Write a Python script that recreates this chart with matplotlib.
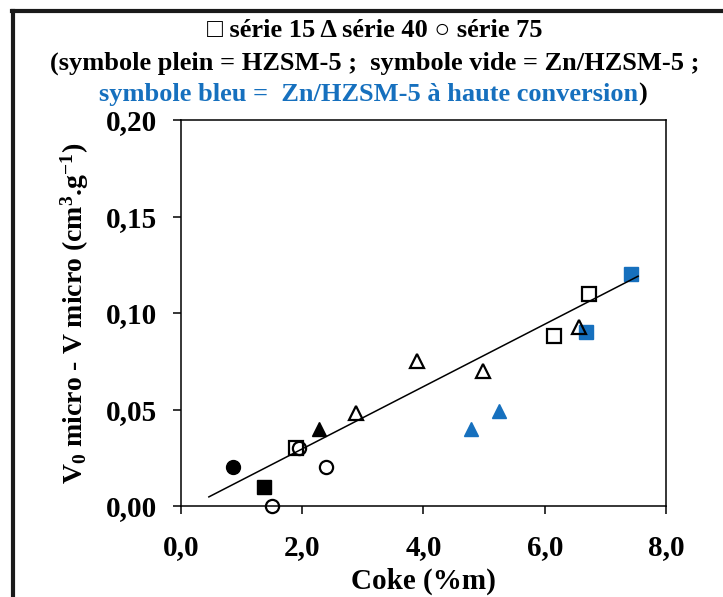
import numpy as np
import matplotlib.pyplot as plt
from matplotlib.lines import Line2D

plt.rcParams['font.family'] = ['Liberation Serif', 'DejaVu Serif']
plt.rcParams['font.weight'] = 'bold'
plt.rcParams['mathtext.fontset'] = 'custom'
plt.rcParams['mathtext.rm'] = 'Liberation Serif:bold'
plt.rcParams['mathtext.bf'] = 'Liberation Serif:bold'
plt.rcParams['mathtext.it'] = 'Liberation Serif:bold'

BLUE = '#1670be'

# série 15 (carrés)
s15_plein_x = [1.37]
s15_plein_y = [0.010]
s15_vide_x = [1.90, 6.15, 6.73]
s15_vide_y = [0.030, 0.088, 0.110]
s15_bleu_x = [6.68, 7.42]
s15_bleu_y = [0.090, 0.120]

# série 40 (triangles)
s40_plein_x = [2.28]
s40_plein_y = [0.040]
s40_vide_x = [2.89, 3.90, 4.98, 6.57]
s40_vide_y = [0.048, 0.075, 0.070, 0.093]
s40_bleu_x = [4.78, 5.24]
s40_bleu_y = [0.040, 0.049]

# série 75 (ronds)
s75_plein_x = [0.85]
s75_plein_y = [0.020]
s75_vide_x = [1.50, 1.95, 2.40]
s75_vide_y = [0.000, 0.030, 0.020]

# droite de tendance
fit_slope = 0.01615
fit_intercept = -0.0027
fit_xrange = [0.46, 7.54]

x_ticks = [0, 2, 4, 6, 8]
x_ticklabels = ['0,0', '2,0', '4,0', '6,0', '8,0']
y_ticks = [0.00, 0.05, 0.10, 0.15, 0.20]
y_ticklabels = ['0,00', '0,05', '0,10', '0,15', '0,20']

fig = plt.figure(figsize=(7.23, 5.97), dpi=100)
ax = fig.add_axes([0.2503, 0.1524, 0.6709, 0.6466])

ms = 10
mew = 1.6
# symboles bleus
ax.plot(s15_bleu_x, s15_bleu_y, 's', color=BLUE, ms=ms, mec=BLUE, zorder=3)
ax.plot(s40_bleu_x, s40_bleu_y, '^', color=BLUE, ms=ms, mec=BLUE, zorder=3)
# symboles pleins
ax.plot(s15_plein_x, s15_plein_y, 's', color='black', ms=ms, zorder=3)
ax.plot(s40_plein_x, s40_plein_y, '^', color='black', ms=ms, zorder=3)
ax.plot(s75_plein_x, s75_plein_y, 'o', color='black', ms=ms, zorder=3)
# symboles vides
ax.plot(s15_vide_x, s15_vide_y, 's', mfc='none', mec='black', mew=mew, ms=ms, zorder=4)
ax.plot(s40_vide_x, s40_vide_y, '^', mfc='none', mec='black', mew=mew, ms=ms, zorder=4)
ax.plot(s75_vide_x, s75_vide_y, 'o', mfc='none', mec='black', mew=mew, ms=ms - 0.5,
        zorder=4, clip_on=False)

xf = np.array(fit_xrange)
ax.plot(xf, fit_slope * xf + fit_intercept, color='black', lw=1.1, zorder=5)

ax.set_xlim(0, 8)
ax.set_ylim(0, 0.20)
ax.set_xticks(x_ticks)
ax.set_xticklabels(x_ticklabels)
ax.set_yticks(y_ticks)
ax.set_yticklabels(y_ticklabels)
ax.tick_params(direction='out', length=6, width=1.1, labelsize=21)
ax.tick_params(axis='x', pad=14)
ax.tick_params(axis='y', pad=11)
for sp in ax.spines.values():
    sp.set_linewidth(1.1)

ax.set_xlabel('Coke (%m)', fontsize=21, fontweight='bold', labelpad=5)
ax.set_ylabel(r'V$_{\mathbf{0}}$ micro - V micro (cm$^{\mathbf{3}}$.g$^{\mathbf{-1}}$)',
              fontsize=20, fontweight='bold', labelpad=11)

# titre sur trois lignes
title_size = 19
fig.text(0.519, 0.938, '□ série 15 Δ série 40 ○ série 75', ha='center', va='baseline',
         fontsize=title_size, fontweight='bold')
fig.text(0.518, 0.883, '(symbole plein = HZSM-5 ;  symbole vide = Zn/HZSM-5 ;',
         ha='center', va='baseline', fontsize=title_size, fontweight='bold')
t3 = fig.text(0.510, 0.831, 'symbole bleu =  Zn/HZSM-5 à haute conversion', ha='center',
              va='baseline', fontsize=title_size, fontweight='bold', color=BLUE)
ax.annotate(')', xy=(1, 0), xycoords=t3, ha='left', va='bottom', fontsize=title_size,
            fontweight='bold', color='black', annotation_clip=False)

# cadre
fig.add_artist(Line2D([0.018, 0.018], [0, 0.9824], color='#1a1a1a', lw=3, transform=fig.transFigure))
fig.add_artist(Line2D([0.016, 1.0], [0.9824, 0.9824], color='#1a1a1a', lw=3, transform=fig.transFigure))

plt.savefig('out.png', dpi=100)
